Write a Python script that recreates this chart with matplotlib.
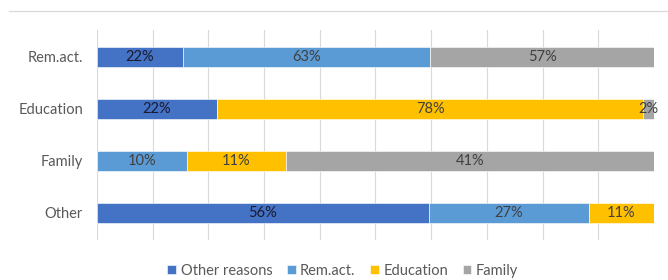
import matplotlib

matplotlib.use("Agg")
import matplotlib.pyplot as plt
from matplotlib.lines import Line2D
import numpy as np

plt.rcParams["font.family"] = ["Lato", "DejaVu Sans"]

categories = ["Rem.act.", "Education", "Family", "Other"]
series = ["Other reasons", "Rem.act.", "Education", "Family"]
other_reasons = [22, 22, 0, 56]
rem_act = [63, 0, 10, 27]
education = [0, 78, 11, 11]
family = [57, 2, 41, 0]

COLORS = ["#4472C4", "#5B9BD5", "#FFC000", "#A5A5A5"]
LABEL_COLORS = ["#1a1a2e", "#404040", "#404040", "#404040"]

values = np.array([other_reasons, rem_act, education, family], dtype=float)
shares = values / values.sum(axis=0) * 100

fig = plt.figure(figsize=(6.68, 2.8), dpi=100)
ax = fig.add_axes([0.1452, 0.143, 0.8338, 0.75])

y = np.arange(len(categories))
left = np.zeros(len(categories))
for i, name in enumerate(series):
    ax.barh(y, shares[i], left=left, height=0.4, color=COLORS[i],
            edgecolor="white", linewidth=0.4, label=name, zorder=3)
    for j in range(len(categories)):
        if values[i, j] > 0:
            ax.text(left[j] + shares[i, j] / 2, y[j], f"{values[i, j]:.0f}%",
                    ha="center", va="center", fontsize=10.5,
                    color=LABEL_COLORS[i], zorder=4)
    left += shares[i]

ax.set_xlim(0, 100)
ax.set_ylim(3.52, -0.52)
ax.set_xticks(np.arange(0, 101, 10))
ax.set_xticklabels([])
ax.tick_params(length=0)
ax.tick_params(axis="y", pad=10, labelsize=10.5, labelcolor="#595959")
ax.set_yticks(y)
ax.set_yticklabels(categories)
ax.grid(axis="x", color="#d9d9d9", linewidth=0.8, zorder=0)
for s in ax.spines.values():
    s.set_visible(False)

fig.add_artist(Line2D([9 / 668, 1], [1 - 11 / 280] * 2, color="#d9d9d9",
                      linewidth=0.9, transform=fig.transFigure))

fig.legend(loc="center", bbox_to_anchor=(0.513, 1 - 271 / 280), ncol=4,
           frameon=False, fontsize=10.5, handlelength=0.6, handleheight=0.6,
           handletextpad=0.3, columnspacing=1.0, labelcolor="#595959")

fig.savefig("out.png", dpi=100)
